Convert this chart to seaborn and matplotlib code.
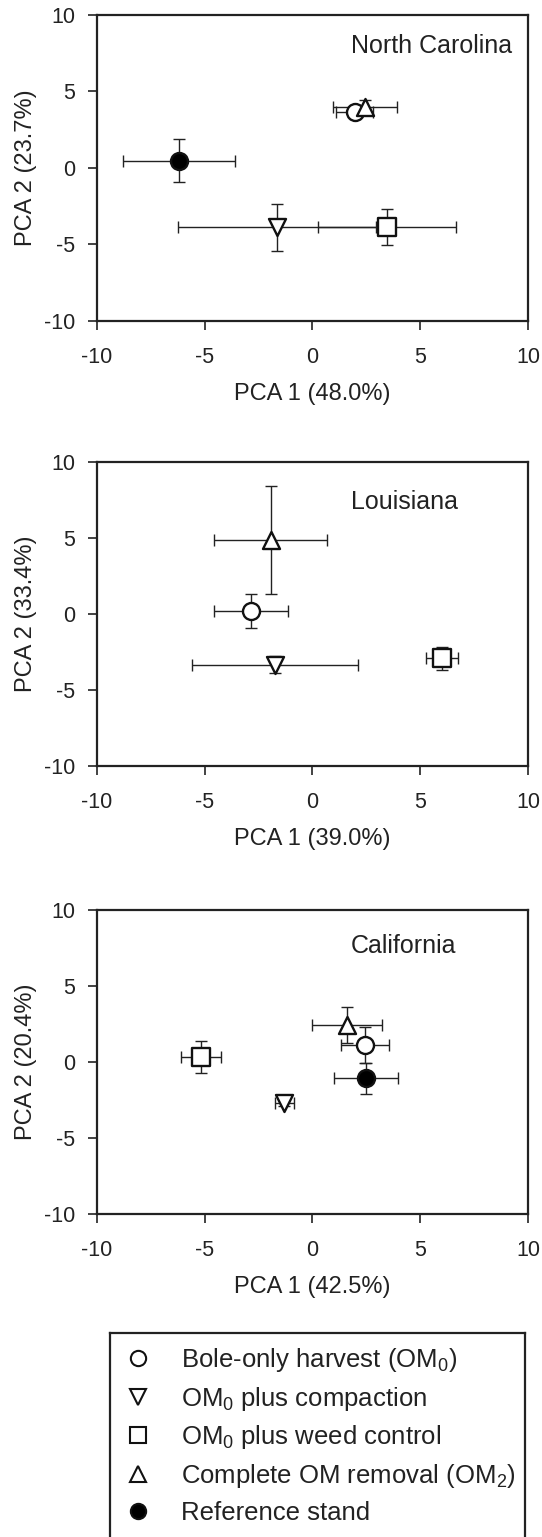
import numpy as np
import pandas as pd
import seaborn as sns
import matplotlib.pyplot as plt
from matplotlib.lines import Line2D

# treatments in legend order
treatments = ['Bole-only harvest (OM$_0$)', 'OM$_0$ plus compaction',
              'OM$_0$ plus weed control', 'Complete OM removal (OM$_2$)',
              'Reference stand']
markers = ['o', 'v', 's', '^', 'o']
fills = ['white', 'white', 'white', 'white', 'black']

sites = ['North Carolina', 'Louisiana', 'California']
pc1_labels = ['PCA 1 (48.0%)', 'PCA 1 (39.0%)', 'PCA 1 (42.5%)']
pc2_labels = ['PCA 2 (23.7%)', 'PCA 2 (33.4%)', 'PCA 2 (20.4%)']
label_y = [8.0, 7.4, 7.65]

# per-site means and errors, in treatment order (nan = not sampled)
nc_x = [1.96, -1.64, 3.48, 2.44, -6.19]
nc_y = [3.68, -3.88, -3.88, 3.95, 0.46]
nc_xerr = [0.85, 4.6, 3.2, 1.47, 2.6]
nc_yerr = [0.2, 1.52, 1.17, 0.5, 1.41]

la_x = [-2.85, -1.75, 6.01, -1.94, np.nan]
la_y = [0.2, -3.35, -2.92, 4.88, np.nan]
la_xerr = [1.7, 3.85, 0.73, 2.63, np.nan]
la_yerr = [1.1, 0.56, 0.73, 3.56, np.nan]

ca_x = [2.43, -1.32, -5.18, 1.62, 2.49]
ca_y = [1.13, -2.68, 0.33, 2.42, -1.09]
ca_xerr = [1.1, 0.44, 0.93, 1.62, 1.49]
ca_yerr = [1.18, 0.2, 1.05, 1.2, 0.99]

frames = []
for site, x, y, xe, ye in zip(sites, [nc_x, la_x, ca_x], [nc_y, la_y, ca_y],
                              [nc_xerr, la_xerr, ca_xerr], [nc_yerr, la_yerr, ca_yerr]):
    frames.append(pd.DataFrame({'site': site, 'treatment': treatments,
                                'pc1': x, 'pc2': y, 'xerr': xe, 'yerr': ye}))
df = pd.concat(frames, ignore_index=True).dropna()

sns.set_style('ticks')
plt.rcParams['font.family'] = ['Liberation Sans', 'DejaVu Sans']
plt.rcParams['mathtext.fontset'] = 'custom'
plt.rcParams['mathtext.rm'] = 'Liberation Sans'
plt.rcParams['mathtext.it'] = 'Liberation Sans'
plt.rcParams['axes.unicode_minus'] = False

ink = '#222222'
fig = plt.figure(figsize=(5.42, 15.37), dpi=100)
axes_pos = [[0.179, 0.7912, 0.795, 0.1991],
            [0.179, 0.5016, 0.795, 0.1978],
            [0.179, 0.2102, 0.795, 0.1978]]

style_map = dict(zip(treatments, markers))
fill_map = dict(zip(treatments, fills))

for i, site in enumerate(sites):
    ax = fig.add_axes(axes_pos[i])
    sub = df[df['site'] == site]
    ax.errorbar(sub['pc1'], sub['pc2'], xerr=sub['xerr'], yerr=sub['yerr'],
                fmt='none', ecolor=ink, elinewidth=1.0, capsize=4.5,
                capthick=1.0, zorder=2)
    for t, g in sub.groupby('treatment', sort=False):
        sns.scatterplot(data=g, x='pc1', y='pc2', marker=style_map[t], s=150,
                        color=fill_map[t], edgecolor='#111111', linewidth=1.7,
                        ax=ax, zorder=3, legend=False)
    ax.set_xlim(-10, 10)
    ax.set_ylim(-10, 10)
    ax.set_xticks([-10, -5, 0, 5, 10])
    ax.set_yticks([-10, -5, 0, 5, 10])
    ax.tick_params(direction='out', length=6.5, width=1.2, labelsize=15.5, colors=ink)
    ax.tick_params(axis='x', pad=12)
    ax.tick_params(axis='y', pad=9)
    for sp in ax.spines.values():
        sp.set_linewidth(1.6)
        sp.set_color(ink)
    ax.set_xlabel(pc1_labels[i], fontsize=17, labelpad=11, color=ink)
    ax.set_ylabel(pc2_labels[i], fontsize=17, labelpad=5, color=ink)
    ax.text(1.78, label_y[i], site, fontsize=18, ha='left', va='center', color=ink)

# legend box (bottom edge runs off the figure)
lax = fig.add_axes([0.203, -0.02, 0.766, 0.1527])
lax.set_xticks([])
lax.set_yticks([])
for sp in lax.spines.values():
    sp.set_linewidth(1.6)
    sp.set_color(ink)
handles = [Line2D([], [], linestyle='none', marker=m, markersize=11,
                  markerfacecolor=f, markeredgecolor='#111111', markeredgewidth=1.5)
           for m, f in zip(markers, fills)]
leg = lax.legend(handles, treatments, loc='upper left', bbox_to_anchor=(0.0, 1.0),
                 frameon=False, fontsize=18.5, handletextpad=1.05, labelspacing=0.42,
                 borderaxespad=0.1, borderpad=0.4, handlelength=1.2)
for txt in leg.get_texts():
    txt.set_color(ink)

fig.savefig('out.png', dpi=100)
